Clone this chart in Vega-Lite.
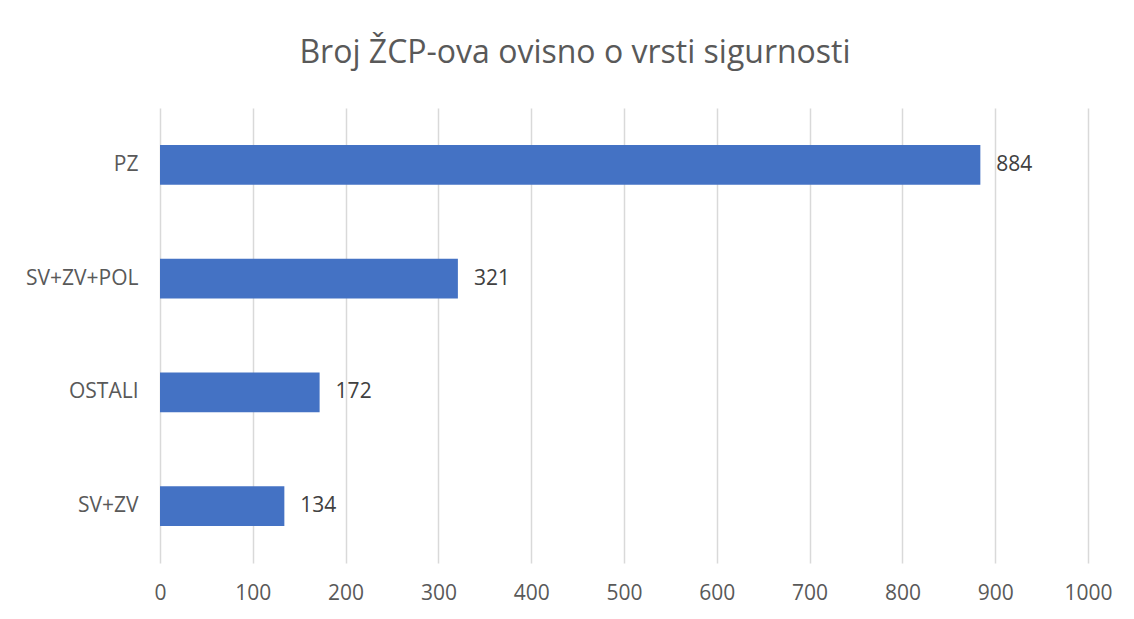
{
  "$schema": "https://vega.github.io/schema/vega-lite/v6.json",
  "autosize": "none",
  "width": 928,
  "height": 455,
  "padding": {"left": 160, "top": 108, "right": 46, "bottom": 56},
  "background": "white",
  "config": {
    "view": {"stroke": null},
    "font": "Open Sans"
  },
  "title": {
    "text": "Broj ŽCP-ova ovisno o vrsti sigurnosti",
    "fontSize": 32,
    "font": "Open Sans",
    "fontWeight": "normal",
    "color": "#595959",
    "anchor": "middle",
    "baseline": "alphabetic",
    "dx": -49,
    "offset": 13
  },
  "data": {
    "values": [
      {"vrsta": "PZ", "broj": 884},
      {"vrsta": "SV+ZV+POL", "broj": 321},
      {"vrsta": "OSTALI", "broj": 172},
      {"vrsta": "SV+ZV", "broj": 134}
    ]
  },
  "encoding": {
    "y": {
      "field": "vrsta",
      "type": "nominal",
      "sort": ["PZ", "SV+ZV+POL", "OSTALI", "SV+ZV"],
      "scale": {"paddingInner": 0.65, "paddingOuter": 0.325},
      "axis": {
        "title": null,
        "domain": false,
        "ticks": false,
        "labelPadding": 22,
        "labelFontSize": 21,
        "labelColor": "#595959",
        "labelFont": "Open Sans"
      }
    },
    "x": {
      "field": "broj",
      "type": "quantitative",
      "scale": {"domain": [0, 1000], "nice": false},
      "axis": {
        "title": null,
        "values": [0, 100, 200, 300, 400, 500, 600, 700, 800, 900, 1000],
        "format": "d",
        "domain": false,
        "ticks": false,
        "labelFlush": false,
        "labelOverlap": false,
        "labelPadding": 19,
        "labelFontSize": 21,
        "labelColor": "#595959",
        "labelFont": "Open Sans",
        "gridColor": "#d9d9d9",
        "gridWidth": 1.5
      }
    }
  },
  "layer": [
    {"mark": {"type": "bar", "color": "#4472C4"}},
    {
      "mark": {"type": "text", "align": "left", "dx": 16, "fontSize": 21, "color": "#404040", "font": "Open Sans"},
      "encoding": {"text": {"field": "broj", "type": "quantitative"}}
    }
  ]
}
